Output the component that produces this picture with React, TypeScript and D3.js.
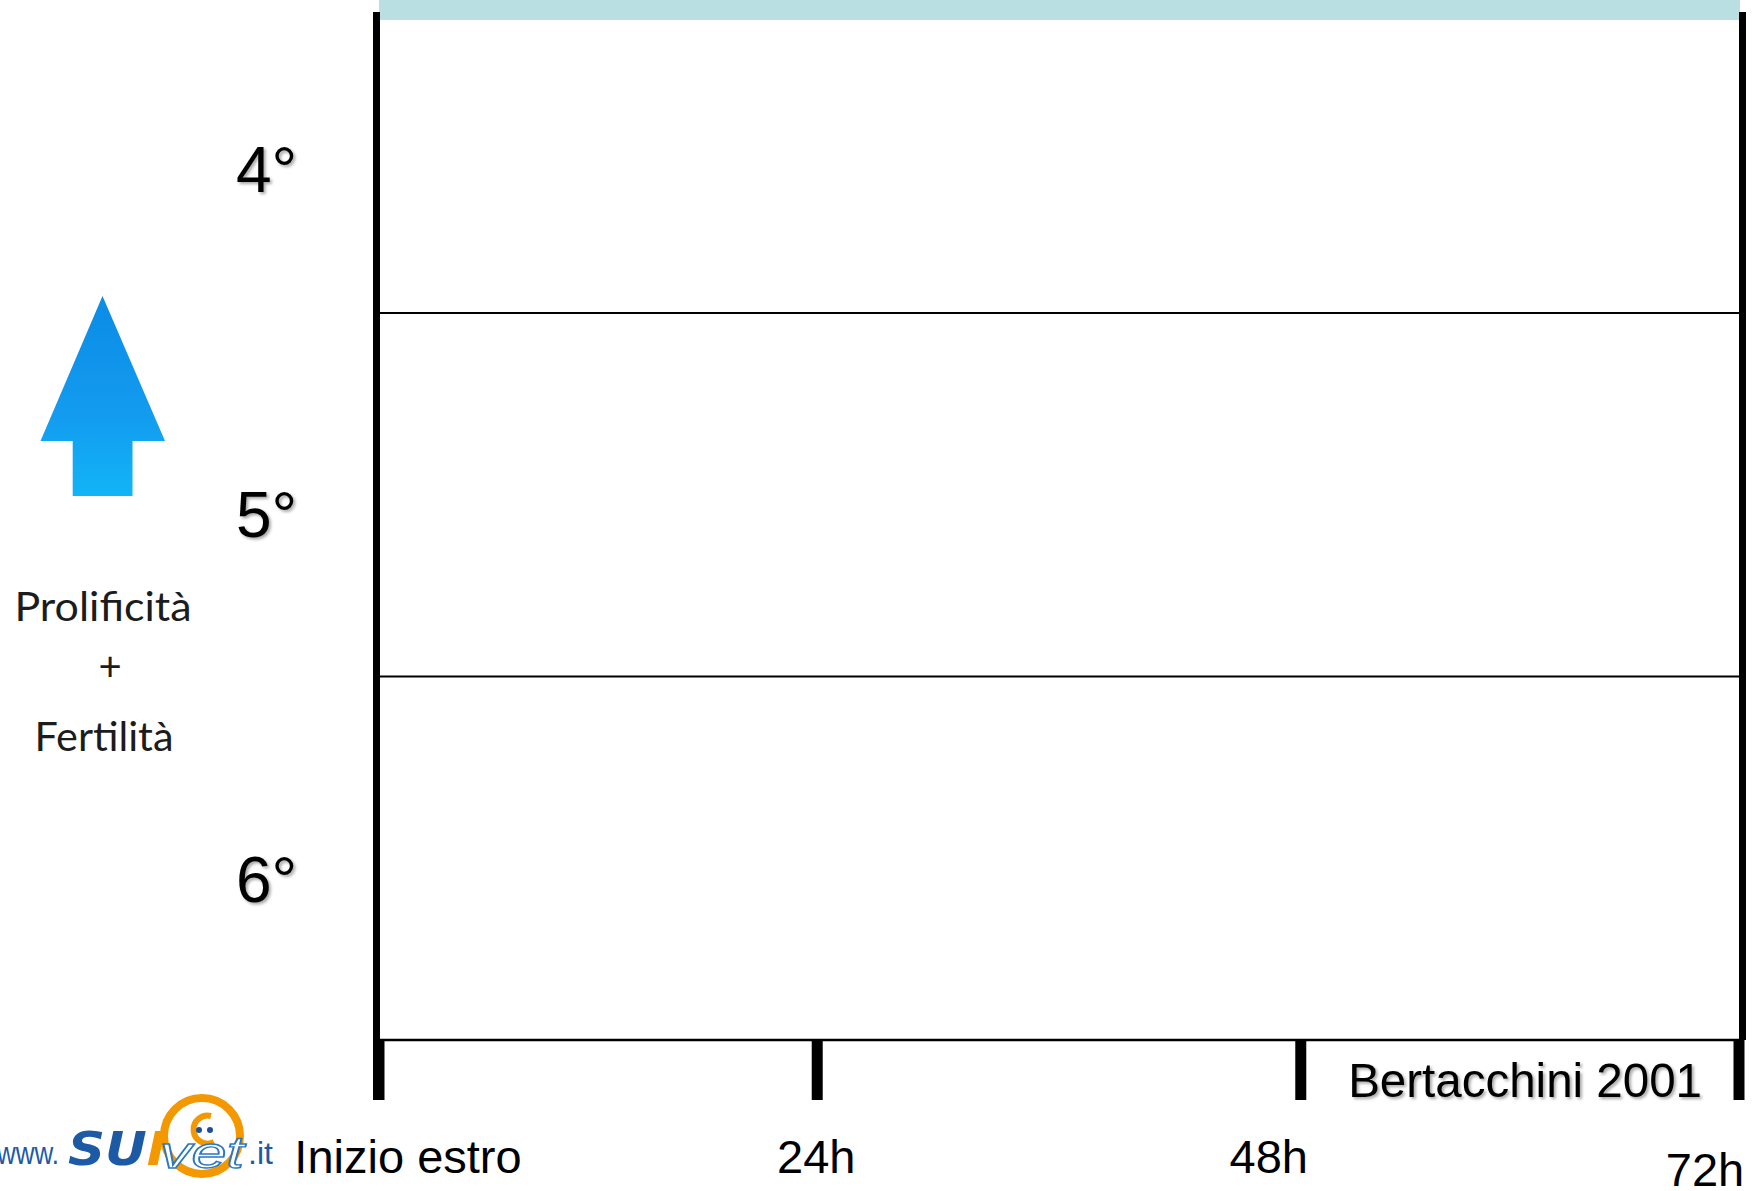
import React from "react";
import * as d3 from "d3";

// ---- data ----
const rankLabels = ["4°", "5°", "6°"];
const rankValues = [4, 5, 6];
const rankBoundaries = [4.5, 5.5];
const timeLabels = ["Inizio estro", "24h", "48h", "72h"];
const timeTickHours = [0, 23.2, 48.8, 72];
const sideLabels = ["Prolificità", "+", "Fertilità"];
const sourceLabel = "Bertacchini 2001";

// ---- layout ----
const W = 1759;
const H = 1191;
const PLOT_LEFT = 379;
const PLOT_RIGHT = 1739;
const PLOT_BOTTOM = 1040;
const BAND_TOP = 20;
const TICK_BOTTOM = 1100;
const RANK_LABEL_DY = [61, 42, 44];
const TIME_LABEL_DX = [29, -1, -32, -34];
const TIME_LABEL_Y = [1173, 1173, 1173, 1186];

export default function App() {
  const x = d3.scaleLinear().domain([0, 72]).range([PLOT_LEFT, PLOT_RIGHT]);
  const y = d3.scaleLinear().domain([3.5, 6.5]).range([-50.5, PLOT_BOTTOM]);

  const arrowPath = d3.path();
  arrowPath.moveTo(102.5, 296);
  arrowPath.lineTo(165, 441);
  arrowPath.lineTo(132.5, 441);
  arrowPath.lineTo(132.5, 496);
  arrowPath.lineTo(72.7, 496);
  arrowPath.lineTo(72.7, 441);
  arrowPath.lineTo(40.5, 441);
  arrowPath.closePath();

  const font = "'Liberation Sans', Arial, sans-serif";

  return (
    <svg
      width={W}
      height={H}
      style={{ position: "absolute", left: 0, top: 0, display: "block", background: "#fff" }}
    >
      <defs>
        <filter id="shadow" x="-20%" y="-20%" width="140%" height="160%">
          <feDropShadow dx="2" dy="2" stdDeviation="1.4" floodColor="#000" floodOpacity="0.35" />
        </filter>
        <linearGradient id="arrowGrad" x1="0" y1="0" x2="0" y2="1">
          <stop offset="0" stopColor="#0b8be6" />
          <stop offset="0.6" stopColor="#139cef" />
          <stop offset="1" stopColor="#12b4f7" />
        </linearGradient>
      </defs>

      {/* top teal band */}
      <rect x={PLOT_LEFT} y={0} width={PLOT_RIGHT - PLOT_LEFT + 1} height={BAND_TOP} fill="#badfe2" />

      {/* horizontal row separators */}
      {rankBoundaries.map((b, i) => (
        <line key={i} x1={PLOT_LEFT} x2={PLOT_RIGHT + 3} y1={y(b)} y2={y(b)} stroke="#000" strokeWidth={2} />
      ))}
      <line x1={PLOT_LEFT} x2={PLOT_RIGHT + 3} y1={PLOT_BOTTOM} y2={PLOT_BOTTOM} stroke="#000" strokeWidth={2.5} />

      {/* vertical axes */}
      <line x1={PLOT_LEFT - 2.5} x2={PLOT_LEFT - 2.5} y1={12} y2={TICK_BOTTOM} stroke="#000" strokeWidth={7} />
      <line x1={PLOT_RIGHT + 3.5} x2={PLOT_RIGHT + 3.5} y1={12} y2={PLOT_BOTTOM} stroke="#000" strokeWidth={7} />

      {/* ticks */}
      {timeTickHours.map((h, i) => (
        <line key={i} x1={x(h)} x2={x(h)} y1={PLOT_BOTTOM} y2={TICK_BOTTOM} stroke="#000" strokeWidth={11} />
      ))}

      {/* tick labels */}
      {timeLabels.map((t, i) => (
        <text
          key={t}
          x={x(timeTickHours[i]) + TIME_LABEL_DX[i]}
          y={TIME_LABEL_Y[i]}
          textAnchor="middle"
          fontFamily={font}
          fontSize={47}
          fill="#000"
        >
          {t}
        </text>
      ))}

      {/* rank labels */}
      {rankLabels.map((r, i) => (
        <text
          key={r}
          x={236}
          y={y(rankValues[i]) + RANK_LABEL_DY[i]}
          fontFamily={font}
          fontSize={64}
          fill="#000"
          filter="url(#shadow)"
        >
          {r}
        </text>
      ))}

      {/* source */}
      <text
        x={1702}
        y={1097}
        textAnchor="end"
        fontFamily={font}
        fontSize={47.5}
        fill="#000"
        filter="url(#shadow)"
      >
        {sourceLabel}
      </text>

      {/* arrow */}
      <path d={arrowPath.toString()} fill="url(#arrowGrad)" />

      {/* side labels */}
      <text x={103} y={621} textAnchor="middle" fontFamily="Lato, 'Noto Sans', sans-serif" fontSize={41}
        fill="#1c1c1c" textLength={177} lengthAdjust="spacingAndGlyphs">
        {sideLabels[0]}
      </text>
      <text x={110} y={681} textAnchor="middle" fontFamily="Lato, 'Noto Sans', sans-serif" fontSize={40} fill="#1c1c1c">
        {sideLabels[1]}
      </text>
      <text x={104} y={751} textAnchor="middle" fontFamily="Lato, 'Noto Sans', sans-serif" fontSize={41}
        fill="#1c1c1c" textLength={139} lengthAdjust="spacingAndGlyphs">
        {sideLabels[2]}
      </text>

      {/* logo */}
      <g>
        <circle cx={202} cy={1136} r={38} fill="none" stroke="#f39800" strokeWidth={8} />
        <path d="M 211 1116 A 14 14 0 1 0 214 1142" fill="none" stroke="#f39800" strokeWidth={6} />
        <circle cx={199} cy={1130} r={3} fill="#1b4f99" />
        <circle cx={210} cy={1130} r={3} fill="#1b4f99" />
        <text x={-3} y={1164} fontFamily="'Liberation Sans', Arial, sans-serif" fontSize={32} fill="#1d5aa6"
          textLength={62} lengthAdjust="spacingAndGlyphs">www.</text>
        <text x={68} y={1165} fontFamily="'DejaVu Sans', 'Liberation Sans', sans-serif" fontSize={46} fontWeight="bold"
          fontStyle="italic" textLength={98} lengthAdjust="spacingAndGlyphs">
          <tspan fill="#1d5aa6">SU</tspan>
          <tspan fill="#f39800">I</tspan>
        </text>
        <text x={160} y={1168} fontFamily="'Liberation Sans', Arial, sans-serif" fontSize={44}
          fontStyle="italic" fill="#ffffff" stroke="#2a78c0" strokeWidth={1.4} textLength={84}
          lengthAdjust="spacingAndGlyphs">vet</text>
        <text x={248} y={1164} fontFamily="'Liberation Sans', Arial, sans-serif" fontSize={32} fill="#1d5aa6">.it</text>
      </g>
    </svg>
  );
}
